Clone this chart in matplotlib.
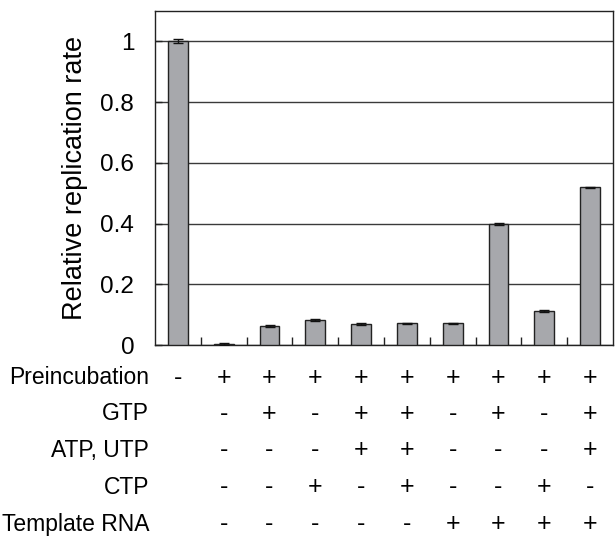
import matplotlib
matplotlib.use("Agg")
import matplotlib.pyplot as plt
import matplotlib.transforms as mtransforms
import numpy as np

plt.rcParams['font.family'] = ['Liberation Sans', 'DejaVu Sans']

# Data
values = [1.0, 0.003, 0.063, 0.082, 0.068, 0.071, 0.071, 0.398, 0.112, 0.519]
errors = [0.007, 0.002, 0.003, 0.003, 0.003, 0.003, 0.003, 0.003, 0.004, 0.003]
row_labels = ["Preincubation", "GTP", "ATP, UTP", "CTP", "Template RNA"]
row_signs = [
    ["-", "+", "+", "+", "+", "+", "+", "+", "+", "+"],
    ["",  "-", "+", "-", "+", "+", "-", "+", "-", "+"],
    ["",  "-", "-", "-", "+", "+", "-", "-", "-", "+"],
    ["",  "-", "-", "+", "-", "+", "-", "-", "+", "-"],
    ["",  "-", "-", "-", "-", "-", "+", "+", "+", "+"],
]
yticks = [0, 0.2, 0.4, 0.6, 0.8, 1.0]
ytick_labels = ["0", "0.2", "0.4", "0.6", "0.8", "1"]

W, H = 616, 536
fig = plt.figure(figsize=(W / 100, H / 100), dpi=100)
ax = fig.add_axes([155 / W, 1 - 345 / H, (613 - 155) / W, (345 - 11) / H])

x = np.arange(len(values))
ax.bar(x, values, width=0.43, color="#a7a8ac", edgecolor="#222222",
       linewidth=1.0, zorder=3,
       yerr=errors, error_kw=dict(ecolor="#111111", elinewidth=1.0,
                                  capsize=3.5, capthick=1.0, zorder=4))

ax.set_xlim(-0.5, len(values) - 0.5)
ax.set_ylim(0, 1.1)
ax.set_yticks(yticks)
ax.set_yticklabels(ytick_labels, fontsize=17.5)
ax.set_xticks(np.arange(0.5, len(values) - 0.5, 1.0))
ax.set_xticklabels([])
ax.tick_params(axis="x", direction="in", length=6, width=1, color="#222222")
ax.tick_params(axis="y", direction="in", length=5, width=1, pad=15,
               color="#222222")
ax.yaxis.grid(True, color="#3a3a3a", linewidth=1.0, zorder=0)
ax.set_axisbelow(True)
for s in ax.spines.values():
    s.set_color("#222222")
    s.set_linewidth(1.0)

ax.set_ylabel("Relative replication rate", fontsize=19.5, labelpad=9)

# Condition table below the axis
trans = mtransforms.blended_transform_factory(ax.transData, fig.transFigure)
row_py = [378, 414, 450, 487, 524]
for label, signs, py in zip(row_labels, row_signs, row_py):
    fy = 1 - py / H
    fig.text(149 / W, fy, label, ha="right", va="center", fontsize=16.5)
    for i, s in enumerate(signs):
        if s:
            ax.text(i, fy, s, transform=trans, ha="center", va="center",
                    fontsize=18, clip_on=False)

fig.savefig("out.png", dpi=100)
